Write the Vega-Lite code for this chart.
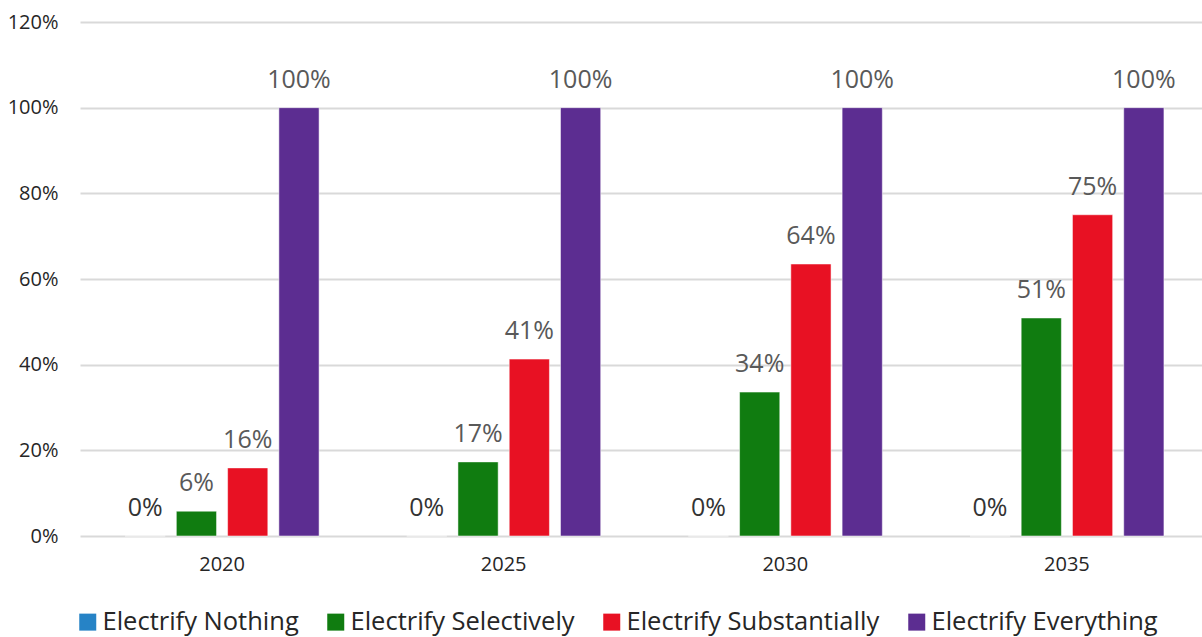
{
  "$schema": "https://vega.github.io/schema/vega-lite/v6.json",
  "width": 1122,
  "height": 514,
  "autosize": {"type": "none"},
  "padding": {"left": 80, "top": 22, "right": 0, "bottom": 101},
  "background": "white",
  "config": {
    "font": "Open Sans",
    "view": {"stroke": null}
  },
  "data": {
    "values": [
      {"year": "2020", "series": "Electrify Nothing", "value": 0},
      {"year": "2020", "series": "Electrify Selectively", "value": 0.058},
      {"year": "2020", "series": "Electrify Substantially", "value": 0.159},
      {"year": "2020", "series": "Electrify Everything", "value": 1.0},
      {"year": "2025", "series": "Electrify Nothing", "value": 0},
      {"year": "2025", "series": "Electrify Selectively", "value": 0.173},
      {"year": "2025", "series": "Electrify Substantially", "value": 0.413},
      {"year": "2025", "series": "Electrify Everything", "value": 1.0},
      {"year": "2030", "series": "Electrify Nothing", "value": 0},
      {"year": "2030", "series": "Electrify Selectively", "value": 0.336},
      {"year": "2030", "series": "Electrify Substantially", "value": 0.635},
      {"year": "2030", "series": "Electrify Everything", "value": 1.0},
      {"year": "2035", "series": "Electrify Nothing", "value": 0},
      {"year": "2035", "series": "Electrify Selectively", "value": 0.509},
      {"year": "2035", "series": "Electrify Substantially", "value": 0.75},
      {"year": "2035", "series": "Electrify Everything", "value": 1.0}
    ]
  },
  "encoding": {
    "x": {
      "field": "year",
      "type": "nominal",
      "scale": {"paddingInner": 0.311, "paddingOuter": 0.16, "range": [0, 1129]},
      "axis": {
        "title": null,
        "labelAngle": 0,
        "domain": false,
        "ticks": false,
        "labelFontSize": 20,
        "labelColor": "#262626",
        "labelPadding": 18
      }
    },
    "xOffset": {
      "field": "series",
      "type": "nominal",
      "sort": ["Electrify Nothing", "Electrify Selectively", "Electrify Substantially", "Electrify Everything"],
      "scale": {"paddingInner": 0.2157, "paddingOuter": 0}
    },
    "y": {
      "field": "value",
      "type": "quantitative",
      "scale": {"domain": [0, 1.2], "nice": false},
      "axis": {
        "title": null,
        "values": [0, 0.2, 0.4, 0.6, 0.8, 1.0, 1.2],
        "format": ".0%",
        "domain": false,
        "ticks": false,
        "gridColor": "#d9d9d9",
        "gridWidth": 2,
        "labelFontSize": 20,
        "labelColor": "#262626",
        "labelPadding": 22
      }
    }
  },
  "layer": [
    {
      "mark": {"type": "bar", "stroke": "white", "strokeOpacity": 0.5, "strokeWidth": 1},
      "encoding": {
        "color": {
          "field": "series",
          "type": "nominal",
          "scale": {
            "domain": ["Electrify Nothing", "Electrify Selectively", "Electrify Substantially", "Electrify Everything"],
            "range": ["#2683c6", "#107c10", "#e81123", "#5c2d91"]
          },
          "legend": {
            "title": null,
            "orient": "none",
            "legendX": -5,
            "legendY": 587,
            "direction": "horizontal",
            "symbolType": "square",
            "symbolSize": 289,
            "symbolStrokeWidth": 0,
            "labelFontSize": 25.5,
            "labelColor": "#262626",
            "labelLimit": 400,
            "columnPadding": 24,
            "labelOffset": 2,
            "padding": 0
          }
        }
      }
    },
    {
      "mark": {"type": "text", "baseline": "alphabetic", "dy": -20, "fontSize": 25},
      "encoding": {
        "text": {"field": "value", "type": "quantitative", "format": ".0%"},
        "color": {
          "condition": {"test": "datum.value == 0", "value": "#333333"},
          "value": "#595959"
        }
      }
    }
  ]
}
